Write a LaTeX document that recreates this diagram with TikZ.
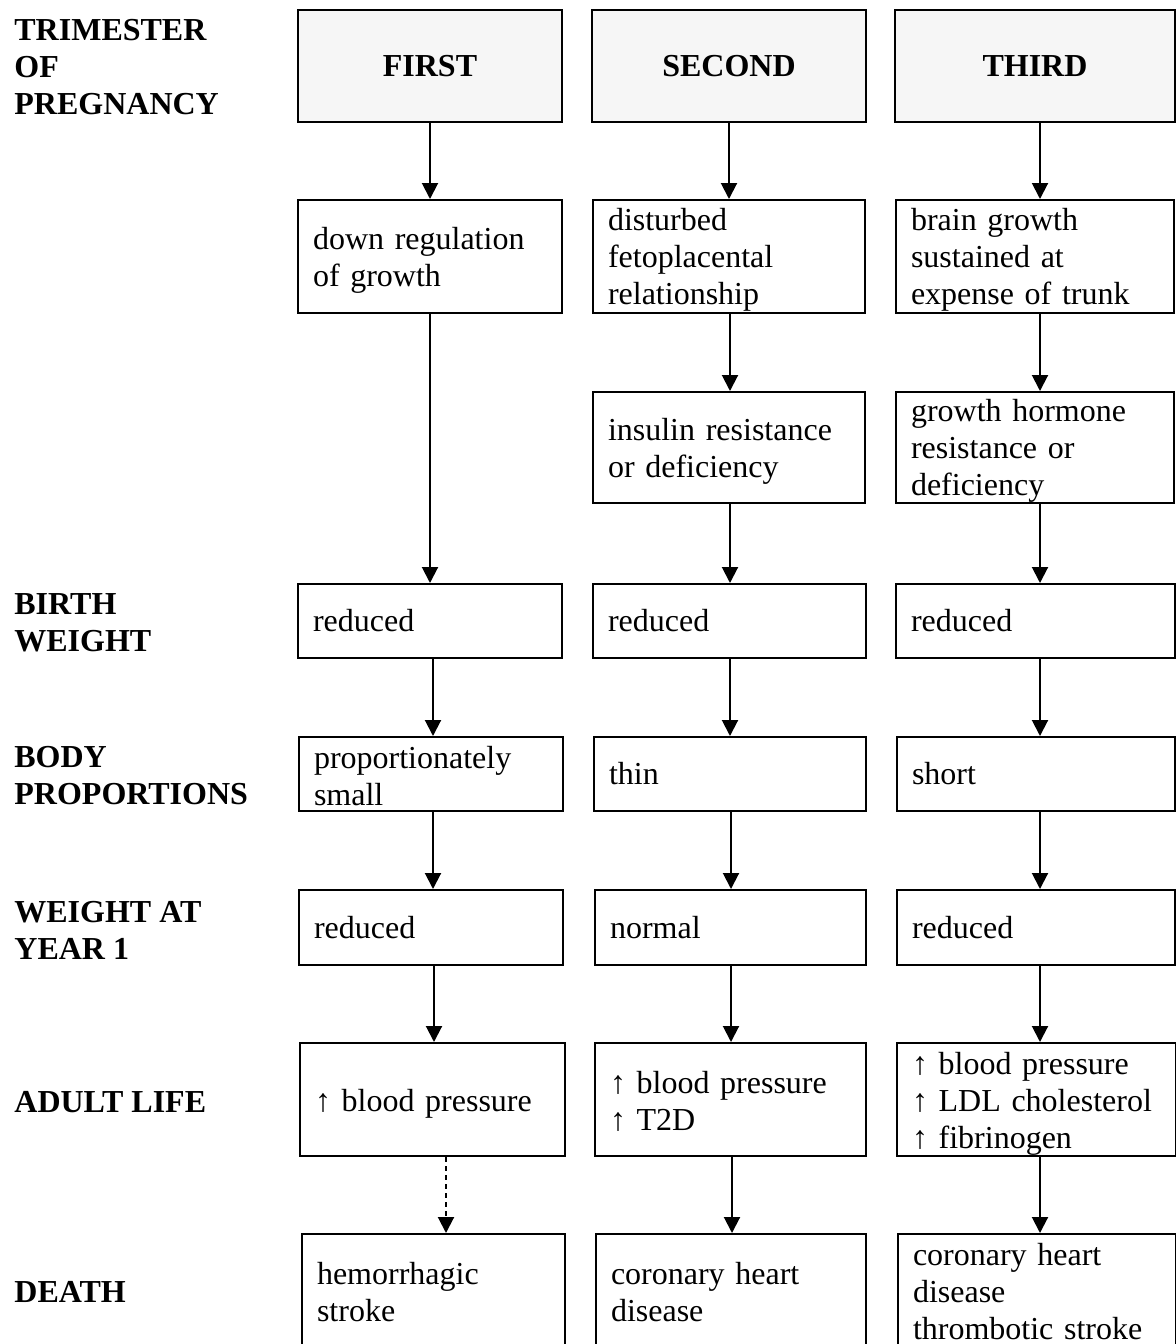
\documentclass[tikz,border=0pt]{standalone}
\usepackage{fontspec}
\setmainfont{Liberation Serif}
\usetikzlibrary{arrows.meta}
\tikzset{
  every picture/.style={x=0.5pt,y=-0.5pt},
  boxstyle/.style={draw, line width=1pt, inner sep=0pt},
  headstyle/.style={boxstyle, fill=gray!7},
  txtstyle/.style={inner xsep=0pt, inner ysep=0pt, align=left,
    font=\fontsize{16}{18.5}\selectfont},
  headtxt/.style={txtstyle, align=center, font=\fontsize{16}{18.5}\selectfont\bfseries},
  rowlabel/.style={anchor=west, align=left, inner sep=0pt, font=\fontsize{16}{18.5}\selectfont\bfseries},
  arr/.style={line width=1pt, -{Triangle[width=8pt,length=8pt]}},
  dotarr/.style={arr, dash pattern=on 2.5pt off 2pt}
}
% \mybox[box style]{name}{left}{top}{right}{bottom}{text shift (pt)}{text}{text style}
\newcommand\mybox[9][boxstyle]{%
  \pgfmathsetmacro\bw{(#5-#3)*0.5}%
  \pgfmathsetmacro\bh{(#6-#4)*0.5}%
  \pgfmathsetmacro\btw{(#5-#3)*0.5-15}%
  \pgfmathsetmacro\bcx{(#3+#5)/2}%
  \pgfmathsetmacro\bcy{(#4+#6)/2}%
  \node[#1, minimum width=\bw pt, minimum height=\bh pt] (#2) at (\bcx,\bcy) {};%
  \node[#9, text width=\btw pt] (#2t) at ([yshift=-#7pt]#2.center) {#8};%
}
\begin{document}
\begin{tikzpicture}
\useasboundingbox (0,0) rectangle (1176,1344);
\clip (0,0) rectangle (1176,1344);
% row labels
\node[rowlabel] (lt) at (14,67.5) {TRIMESTER\\OF\\PREGNANCY};
\node[rowlabel] (lb) at (14,622.5) {BIRTH\\WEIGHT};
\node[rowlabel] (lp) at (14,776) {BODY\\PROPORTIONS};
\node[rowlabel] (lw) at (14,930) {WEIGHT AT\\YEAR 1};
\node[rowlabel] (la) at (14,1102) {ADULT LIFE};
\node[rowlabel] (ld) at (14,1292) {DEATH};
% headers
\mybox[headstyle]{h1}{298}{10}{562}{122}{0}{FIRST}{headtxt}
\mybox[headstyle]{h2}{592}{10}{866}{122}{0}{SECOND}{headtxt}
\mybox[headstyle]{h3}{895}{10}{1175}{122}{0}{THIRD}{headtxt}
% row 2
\mybox{a1}{298}{200}{562}{313}{2}{down regulation\\of growth}{txtstyle}
\mybox{a2}{593}{200}{865}{313}{1.5}{disturbed\\fetoplacental\\relationship}{txtstyle}
\mybox{a3}{896}{200}{1174}{313}{1.5}{brain growth\\sustained at\\expense of trunk}{txtstyle}
% row 3
\mybox{b2}{593}{392}{865}{503}{2}{insulin resistance\\or deficiency}{txtstyle}
\mybox{b3}{896}{392}{1174}{503}{1.5}{growth hormone\\resistance or\\deficiency}{txtstyle}
% birth weight
\mybox{bw1}{298}{584}{562}{658}{0}{reduced}{txtstyle}
\mybox{bw2}{593}{584}{866}{658}{0}{reduced}{txtstyle}
\mybox{bw3}{896}{584}{1175}{658}{0}{reduced}{txtstyle}
% body proportions
\mybox{bp1}{299}{737}{563}{811}{1}{proportionately\\small}{txtstyle}
\mybox{bp2}{594}{737}{866}{811}{0}{thin}{txtstyle}
\mybox{bp3}{897}{737}{1175}{811}{0}{short}{txtstyle}
% weight at year 1
\mybox{w1}{299}{890}{563}{965}{0}{reduced}{txtstyle}
\mybox{w2}{595}{890}{866}{965}{0}{normal}{txtstyle}
\mybox{w3}{897}{890}{1175}{965}{0}{reduced}{txtstyle}
% adult life
\mybox{ad1}{300}{1043}{565}{1156}{2}{↑ blood pressure}{txtstyle}
\mybox{ad2}{595}{1043}{866}{1156}{1}{↑ blood pressure\\↑ T2D}{txtstyle}
\mybox{ad3}{897}{1043}{1176}{1156}{2}{↑ blood pressure\\↑ LDL cholesterol\\↑ fibrinogen}{txtstyle}
% death
\mybox{d1}{302}{1234}{565}{1350}{0}{hemorrhagic\\stroke}{txtstyle}
\mybox{d2}{596}{1234}{866}{1350}{0}{coronary heart\\disease}{txtstyle}
\mybox{d3}{898}{1234}{1176}{1350}{0}{coronary heart\\disease\\thrombotic stroke}{txtstyle}
% column 1 arrows
\draw[arr] ([xshift=0pt]h1.south) -- ([xshift=0pt]h1.south |- a1.north);
\draw[arr] ([xshift=0pt]a1.south) -- ([xshift=0pt]a1.south |- bw1.north);
\draw[arr] ([xshift=1.5pt]bw1.south) -- ([xshift=1.5pt]bw1.south |- bp1.north);
\draw[arr] ([xshift=1pt]bp1.south) -- ([xshift=1pt]bp1.south |- w1.north);
\draw[arr] ([xshift=1.5pt]w1.south) -- ([xshift=1.5pt]w1.south |- ad1.north);
\draw[dotarr] ([xshift=6.75pt]ad1.south) -- ([xshift=6.75pt]ad1.south |- d1.north);
% column 2 arrows
\draw[arr] ([xshift=0pt]h2.south) -- ([xshift=0pt]h2.south |- a2.north);
\draw[arr] ([xshift=0.5pt]a2.south) -- ([xshift=0.5pt]a2.south |- b2.north);
\draw[arr] ([xshift=0.5pt]b2.south) -- ([xshift=0.5pt]b2.south |- bw2.north);
\draw[arr] ([xshift=0.25pt]bw2.south) -- ([xshift=0.25pt]bw2.south |- bp2.north);
\draw[arr] ([xshift=0.5pt]bp2.south) -- ([xshift=0.5pt]bp2.south |- w2.north);
\draw[arr] ([xshift=0.25pt]w2.south) -- ([xshift=0.25pt]w2.south |- ad2.north);
\draw[arr] ([xshift=0.75pt]ad2.south) -- ([xshift=0.75pt]ad2.south |- d2.north);
% column 3 arrows
\draw[arr] ([xshift=2.5pt]h3.south) -- ([xshift=2.5pt]h3.south |- a3.north);
\draw[arr] ([xshift=2.5pt]a3.south) -- ([xshift=2.5pt]a3.south |- b3.north);
\draw[arr] ([xshift=2.5pt]b3.south) -- ([xshift=2.5pt]b3.south |- bw3.north);
\draw[arr] ([xshift=2.25pt]bw3.south) -- ([xshift=2.25pt]bw3.south |- bp3.north);
\draw[arr] ([xshift=2pt]bp3.south) -- ([xshift=2pt]bp3.south |- w3.north);
\draw[arr] ([xshift=2pt]w3.south) -- ([xshift=2pt]w3.south |- ad3.north);
\draw[arr] ([xshift=1.75pt]ad3.south) -- ([xshift=1.75pt]ad3.south |- d3.north);
\end{tikzpicture}
\end{document}
